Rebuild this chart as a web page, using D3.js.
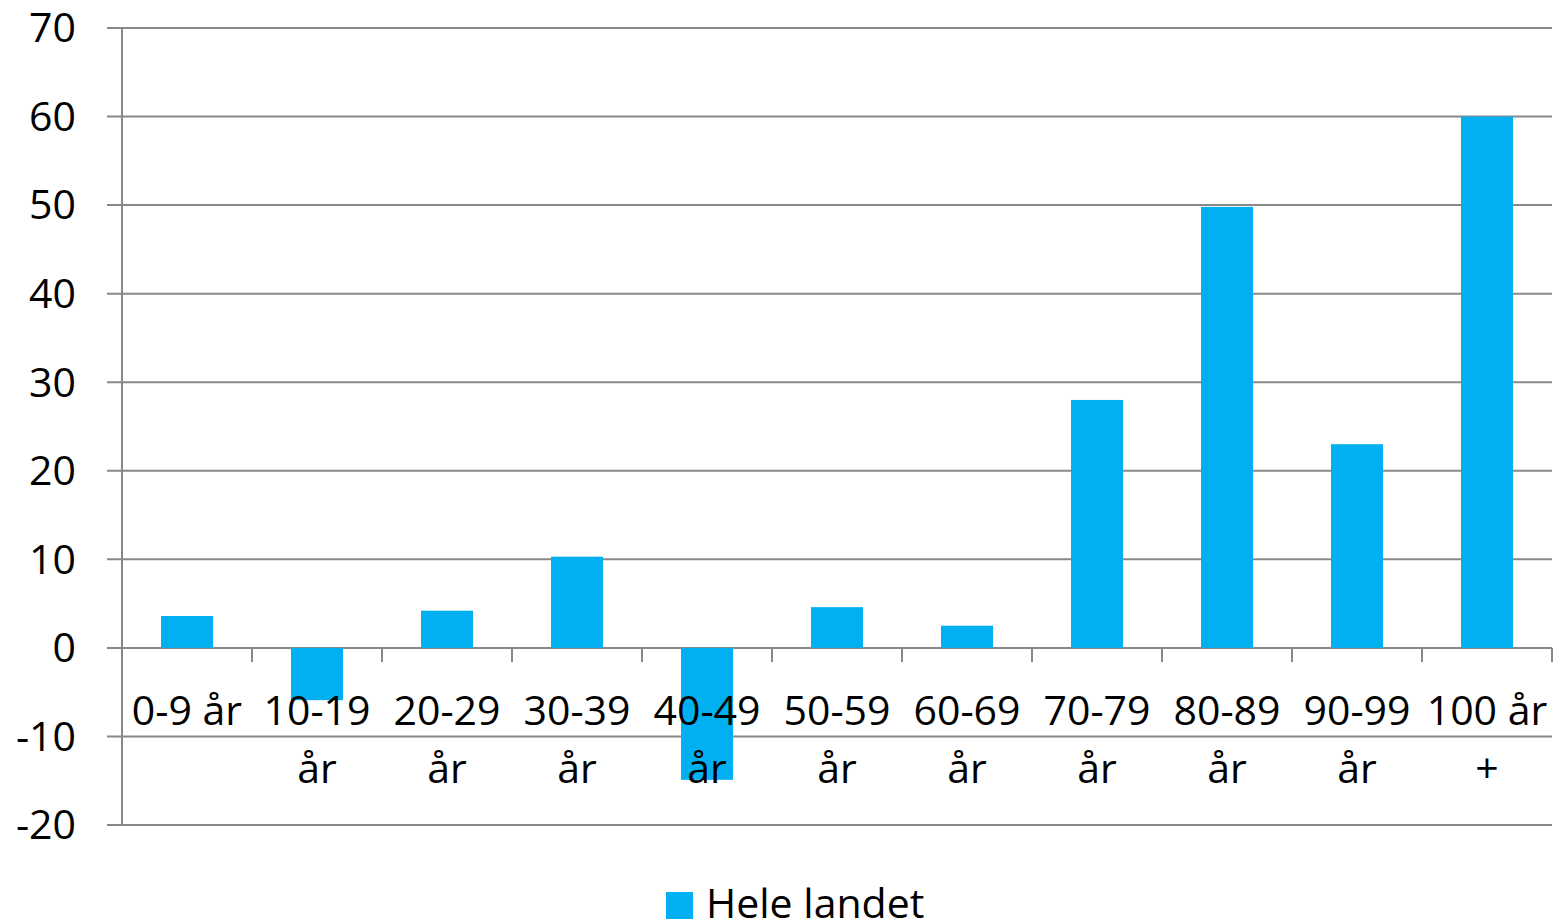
<!DOCTYPE html>
<html>
<head>
<meta charset="utf-8">
<script src="https://cdn.jsdelivr.net/npm/d3@7"></script>
<style>
  body { margin: 0; background: #fff; }
  svg { display: block; font-family: "Open Sans", sans-serif; }
  .grid line { stroke: #888; stroke-width: 2; }
  text { fill: #000; }
</style>
</head>
<body>
<div id="chart"></div>
<script>
// categories and values
const categories = ['0-9 år', '10-19 år', '20-29 år', '30-39 år', '40-49 år', '50-59 år',
  '60-69 år', '70-79 år', '80-89 år', '90-99 år', '100 år +'];
const values = [3.6, -5.9, 4.2, 10.3, -14.9, 4.6, 2.5, 28, 49.8, 23, 60];
const yTicks = [-20, -10, 0, 10, 20, 30, 40, 50, 60, 70];
const seriesName = 'Hele landet';

const width = 1556;
const height = 923;
const margin = { top: 28, right: 4, bottom: 98, left: 122 };
const barColor = '#00b0f0';
const fontSize = 41;

const svg = d3.select('#chart').append('svg')
  .attr('width', width)
  .attr('height', height);

const x = d3.scaleBand()
  .domain(categories)
  .range([margin.left, width - margin.right])
  .paddingInner(0.6)
  .paddingOuter(0.3);

const y = d3.scaleLinear()
  .domain([-20, 70])
  .range([height - margin.bottom, margin.top]);

// horizontal gridlines (extend a bit left of the axis like tick marks)
const grid = svg.append('g').attr('class', 'grid');
grid.selectAll('line.h').data(yTicks).enter().append('line')
  .attr('class', 'h')
  .attr('x1', margin.left - 15)
  .attr('x2', width - margin.right)
  .attr('y1', d => y(d))
  .attr('y2', d => y(d));

// vertical axis line
grid.append('line')
  .attr('x1', margin.left).attr('x2', margin.left)
  .attr('y1', y(70)).attr('y2', y(-20));

// category tick marks below the zero line
const step = x.step();
const boundaries = d3.range(categories.length + 1).map(i => margin.left + i * step);
grid.selectAll('line.t').data(boundaries).enter().append('line')
  .attr('class', 't')
  .attr('x1', d => d).attr('x2', d => d)
  .attr('y1', y(0)).attr('y2', y(0) + 14);

// y labels
svg.append('g').selectAll('text').data(yTicks).enter().append('text')
  .attr('x', 76)
  .attr('y', d => y(d))
  .attr('dy', '0.35em')
  .attr('text-anchor', 'end')
  .attr('font-size', fontSize)
  .text(d => d);

// bars
svg.append('g').selectAll('rect').data(values).enter().append('rect')
  .attr('x', (d, i) => x(categories[i]))
  .attr('width', x.bandwidth())
  .attr('y', d => y(Math.max(0, d)))
  .attr('height', d => Math.abs(y(d) - y(0)))
  .attr('fill', barColor);

// category labels, wrapped to the category width
const labels = svg.append('g').selectAll('text').data(categories).enter().append('text')
  .attr('x', d => x(d) + x.bandwidth() / 2)
  .attr('y', y(0) + 77)
  .attr('text-anchor', 'middle')
  .attr('font-size', fontSize);

labels.each(function wrap(d) {
  const text = d3.select(this);
  const words = d.split(' ');
  let line = [];
  let tspan = text.append('tspan').attr('x', text.attr('x')).attr('dy', 0);
  words.forEach((word) => {
    line.push(word);
    tspan.text(line.join(' '));
    if (tspan.node().getComputedTextLength() > step - 4 && line.length > 1) {
      line.pop();
      tspan.text(line.join(' '));
      line = [word];
      tspan = text.append('tspan').attr('x', text.attr('x')).attr('dy', 58).text(word);
    }
  });
});

// legend
const legend = svg.append('g');
legend.append('rect')
  .attr('x', 666).attr('y', 892)
  .attr('width', 27).attr('height', 27)
  .attr('fill', barColor);
legend.append('text')
  .attr('x', 706).attr('y', 918)
  .attr('font-size', fontSize)
  .text(seriesName);
</script>
</body>
</html>
